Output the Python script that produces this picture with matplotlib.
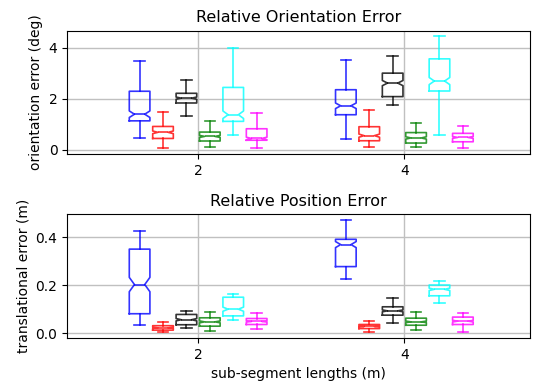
import numpy as np
import matplotlib
matplotlib.use("Agg")
import matplotlib.pyplot as plt

# sub-segment lengths and algorithm colours
lengths = [2, 4]
colors = ['#0000ff', '#ff0000', '#000000', '#008000', '#00ffff', '#ff00ff']

# orientation error (deg): [whislo, q1, med, q3, whishi] per colour, per length
rot_2 = [[0.47, 1.14, 1.40, 2.30, 3.48],
         [0.06, 0.45, 0.69, 0.92, 1.49],
         [1.34, 1.84, 2.03, 2.22, 2.75],
         [0.10, 0.35, 0.53, 0.70, 1.13],
         [0.58, 1.12, 1.38, 2.45, 4.00],
         [0.06, 0.38, 0.45, 0.83, 1.43]]
rot_4 = [[0.43, 1.38, 1.73, 2.36, 3.53],
         [0.10, 0.36, 0.56, 0.91, 1.57],
         [1.75, 2.09, 2.62, 3.01, 3.69],
         [0.10, 0.27, 0.47, 0.68, 1.06],
         [0.58, 2.31, 2.70, 3.57, 4.45],
         [0.06, 0.32, 0.49, 0.65, 0.95]]

# translational error (m)
trans_2 = [[0.033, 0.081, 0.203, 0.351, 0.428],
           [0.003, 0.0125, 0.022, 0.031, 0.047],
           [0.021, 0.035, 0.056, 0.078, 0.093],
           [0.008, 0.029, 0.047, 0.064, 0.089],
           [0.054, 0.072, 0.100, 0.150, 0.164],
           [0.017, 0.036, 0.049, 0.061, 0.083]]
trans_4 = [[0.226, 0.278, 0.370, 0.392, 0.474],
           [0.004, 0.019, 0.028, 0.036, 0.051],
           [0.044, 0.075, 0.093, 0.110, 0.147],
           [0.0125, 0.033, 0.047, 0.0625, 0.089],
           [0.125, 0.156, 0.183, 0.201, 0.218],
           [0.004, 0.036, 0.050, 0.067, 0.083]]


def make_stats(vals, n=200):
    lo, q1, med, q3, hi = vals
    ci = 1.57 * (q3 - q1) / np.sqrt(n)
    return dict(whislo=lo, q1=q1, med=med, q3=q3, whishi=hi,
                cilo=med - ci, cihi=med + ci, fliers=[])


def draw_group(ax, groups):
    step = 0.227
    lw = 1.2
    for li, L in enumerate(lengths):
        for ci, c in enumerate(colors):
            pos = L + (ci - 2.5) * step
            st = make_stats(groups[li][ci])
            ax.bxp([st], positions=[pos], widths=0.2, shownotches=True,
                   showfliers=False,
                   boxprops=dict(color=c, lw=lw, alpha=0.8),
                   whiskerprops=dict(color=c, lw=lw, ls='-', alpha=0.8),
                   capprops=dict(color=c, lw=lw, alpha=0.8),
                   medianprops=dict(color=c, lw=lw, alpha=0.8))
    ax.set_xticks(lengths)
    ax.set_xticklabels([str(l) for l in lengths])
    ax.set_xlim(0.73, 5.22)
    ax.grid(True, color='#c0c0c0', lw=1)
    ax.set_axisbelow(True)


fig = plt.figure(figsize=(5.46, 3.85), dpi=100)
ax1 = fig.add_axes([0.123, 0.600, 0.848, 0.320])
ax2 = fig.add_axes([0.123, 0.122, 0.848, 0.322])

draw_group(ax1, [rot_2, rot_4])
ax1.set_title("Relative Orientation Error", fontsize=11.5)
ax1.set_ylabel("orientation error (deg)")

draw_group(ax2, [trans_2, trans_4])
ax2.set_title("Relative Position Error", fontsize=11.5)
ax2.set_ylabel("translational error (m)")
ax2.set_xlabel("sub-segment lengths (m)")
ax2.set_yticks([0.0, 0.2, 0.4])

fig.savefig("out.png", dpi=100)
